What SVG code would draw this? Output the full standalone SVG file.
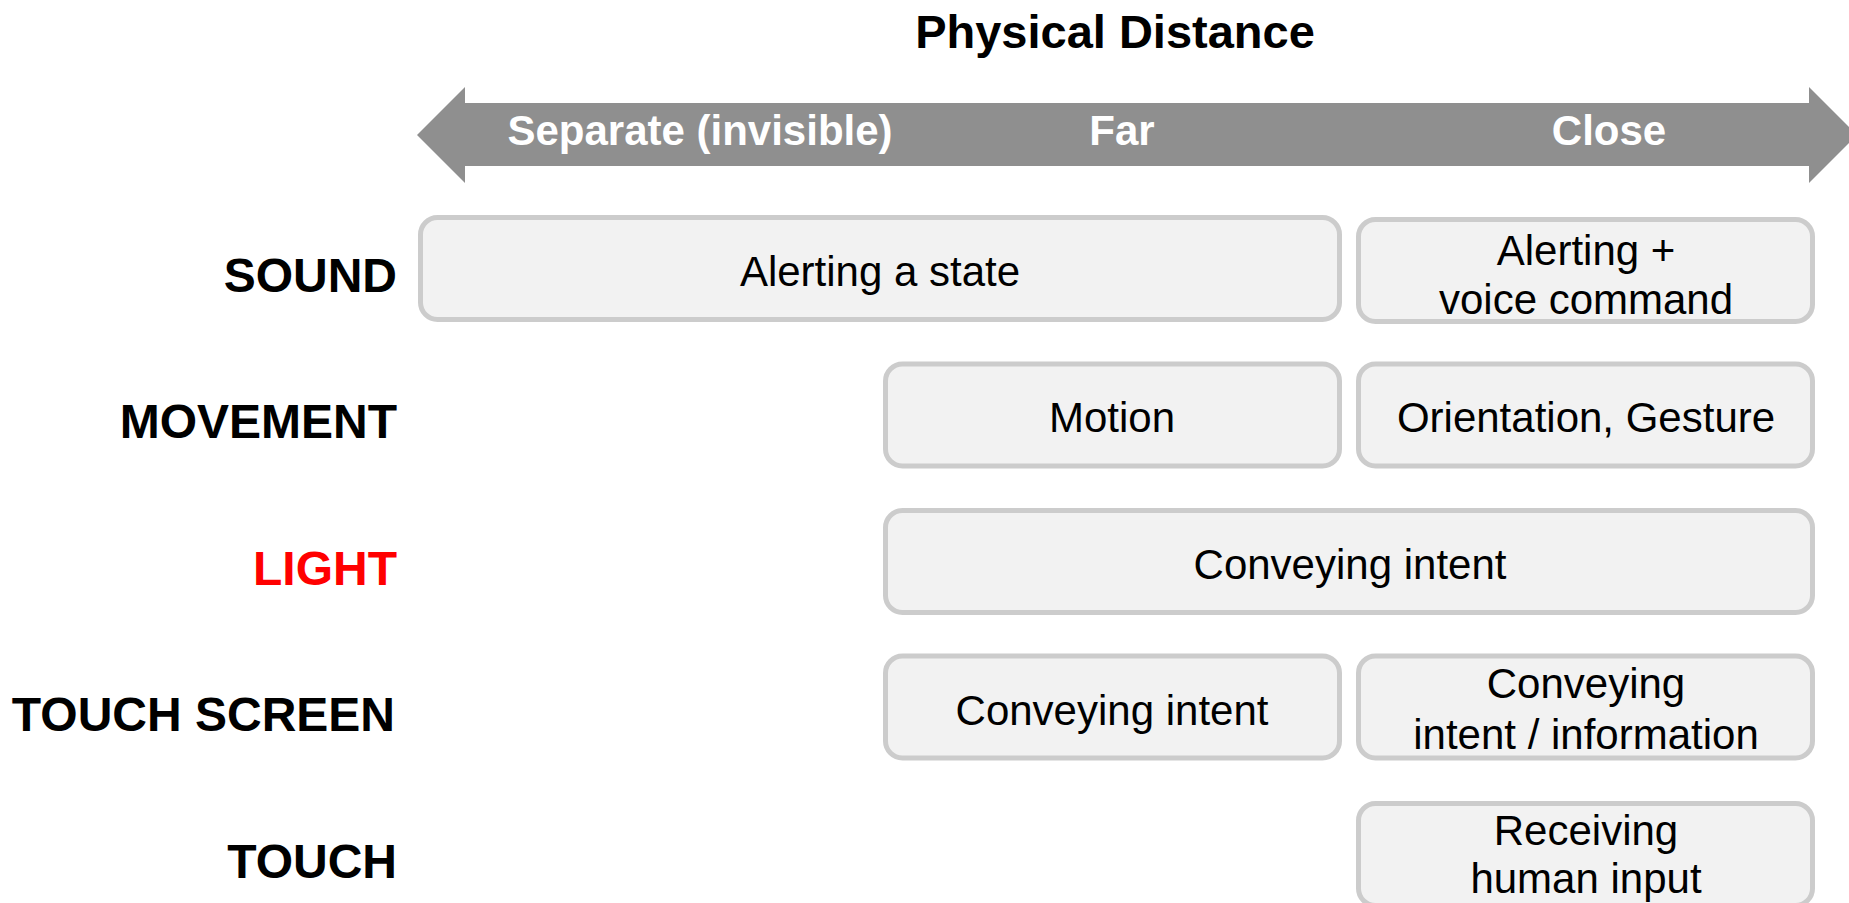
<svg xmlns="http://www.w3.org/2000/svg" width="1849" height="903" viewBox="0 0 1849 903">
<style>
.title{font-family:"Liberation Sans",Arial,sans-serif;font-weight:bold;font-size:47px;fill:#000;text-anchor:middle}
.axis{font-family:"Liberation Sans",Arial,sans-serif;font-weight:bold;font-size:42px;fill:#fff;text-anchor:middle}
.lbl{font-family:"Liberation Sans",Arial,sans-serif;font-weight:bold;font-size:48px;fill:#000;text-anchor:end}
.box{fill:#f2f2f2;stroke:#cccccc;stroke-width:5}
.txt{font-family:"Liberation Sans",Arial,sans-serif;font-size:42px;fill:#000;text-anchor:middle}
</style>
<rect width="1849" height="903" fill="#fff"/>
<g id="title"><text class="title" x="1115" y="48">Physical Distance</text></g>
<g id="axis">
<polygon points="417,135 465,87 465,103 1809,103 1809,87 1857,135 1809,183 1809,166 465,166 465,183" fill="#8f8f8f"/>
<text class="axis" x="700" y="145">Separate (invisible)</text>
<text class="axis" x="1122" y="145">Far</text>
<text class="axis" x="1609" y="145">Close</text>
</g>
<g id="labels">
<text class="lbl" x="397" y="292">SOUND</text>
<text class="lbl" x="397" y="438">MOVEMENT</text>
<text class="lbl" x="397" y="585" style="fill:#ff0000">LIGHT</text>
<text class="lbl" x="395" y="731">TOUCH SCREEN</text>
<text class="lbl" x="397" y="878">TOUCH</text>
</g>
<g id="sound-alerting">
<rect class="box" x="420.5" y="217.5" width="919" height="102" rx="17"/>
<text class="txt" x="880" y="286">Alerting a state</text>
</g>
<g id="sound-voice">
<rect class="box" x="1358.5" y="219.5" width="454" height="102" rx="17"/>
<text class="txt" x="1586" y="265">Alerting +</text>
<text class="txt" x="1586" y="314">voice command</text>
</g>
<g id="movement-motion">
<rect class="box" x="885.5" y="364" width="454" height="102" rx="17"/>
<text class="txt" x="1112" y="432">Motion</text>
</g>
<g id="movement-gesture">
<rect class="box" x="1358.5" y="364" width="454" height="102" rx="17"/>
<text class="txt" x="1586" y="432">Orientation, Gesture</text>
</g>
<g id="light-intent">
<rect class="box" x="885.5" y="510.5" width="927" height="102" rx="17"/>
<text class="txt" x="1350" y="579">Conveying intent</text>
</g>
<g id="touchscreen-intent">
<rect class="box" x="885.5" y="656" width="454" height="102" rx="17"/>
<text class="txt" x="1112" y="725">Conveying intent</text>
</g>
<g id="touchscreen-info">
<rect class="box" x="1358.5" y="656" width="454" height="102" rx="17"/>
<text class="txt" x="1586" y="698">Conveying</text>
<text class="txt" x="1586" y="749">intent / information</text>
</g>
<g id="touch-input">
<rect class="box" x="1358.5" y="803.5" width="454" height="102" rx="17"/>
<text class="txt" x="1586" y="845">Receiving</text>
<text class="txt" x="1586" y="893">human input</text>
</g>
<g id="connectors"></g>
</svg>
